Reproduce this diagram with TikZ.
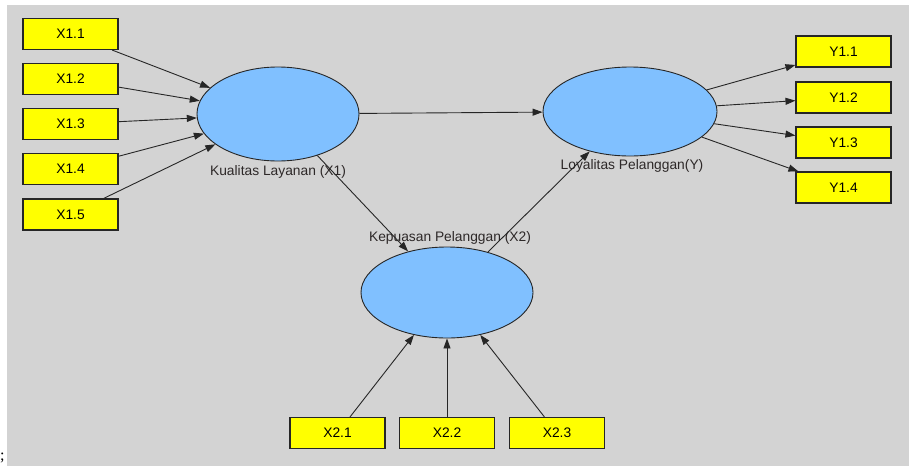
\documentclass[tikz,border=0pt]{standalone}
\usepackage{fontspec}
\setmainfont{Liberation Sans}
\newfontfamily\semifont{Liberation Serif}
\usetikzlibrary{arrows.meta,shapes.geometric}
\definecolor{canvas}{RGB}{211,211,211}
\definecolor{latent}{RGB}{128,192,255}
\definecolor{indicator}{RGB}{255,255,0}
\definecolor{labeltext}{RGB}{45,40,40}
\begin{document}
\begin{tikzpicture}[x=1pt,y=-1pt,
  mbox/.style={draw=black!85,line width=1.1pt,fill=indicator,minimum width=95pt,minimum height=31pt,inner sep=0pt,font=\fontsize{13.8}{15}\selectfont},
  lv/.style={ellipse,draw=black!85,line width=0.9pt,fill=latent,inner sep=0pt},
  lvlabel/.style={text=labeltext,font=\fontsize{13.8}{15}\selectfont,inner sep=0pt},
  path/.style={draw=black!85,line width=0.9pt,-{Triangle[length=10pt,width=7pt]}}]
\useasboundingbox (0,0) rectangle (909,466);
\fill[canvas] (7,5) rectangle (909,466);
\node[font=\semifont\fontsize{16}{18}\selectfont,anchor=west,inner sep=0pt] (semi) at (0,458) {;};

% latent variables
\node[lv,minimum width=162pt,minimum height=94pt] (kl) at (278,114) {};
\node[lv,minimum width=174pt,minimum height=89pt] (lp) at (630,111.5) {};
\node[lv,minimum width=172pt,minimum height=91pt] (kp) at (447,292.5) {};
\node[lvlabel] (kllab) at (278,172) {Kualitas Layanan (X1)};
\node[lvlabel] (lplab) at (632,166) {Loyalitas Pelanggan(Y)};
\node[lvlabel] (kplab) at (450,238) {Kepuasan Pelanggan (X2)};

% indicators of X1
\node[mbox] (x11) at (70.5,34) {X1.1};
\node[mbox] (x12) at (70.5,79) {X1.2};
\node[mbox] (x13) at (70.5,124) {X1.3};
\node[mbox] (x14) at (70.5,169) {X1.4};
\node[mbox] (x15) at (70.5,214.5) {X1.5};

% indicators of Y
\node[mbox] (y11) at (843.5,51.5) {Y1.1};
\node[mbox] (y12) at (843.5,97.5) {Y1.2};
\node[mbox] (y13) at (843.5,142.5) {Y1.3};
\node[mbox] (y14) at (843.5,187.5) {Y1.4};

% indicators of X2
\node[mbox] (x21) at (337.5,433) {X2.1};
\node[mbox] (x22) at (447,433) {X2.2};
\node[mbox] (x23) at (557,433) {X2.3};

% connectors
\foreach \i in {x11,x12,x13,x14,x15} \draw[path] (\i) -- (kl);
\foreach \i in {y11,y12,y13,y14} \draw[path] (lp) -- (\i);
\foreach \i in {x21,x22,x23} \draw[path] (\i) -- (kp);
\draw[path] (kl) -- (lp);
\draw[path] (kl) -- (kp);
\draw[path] (kp) -- (lp);
\end{tikzpicture}
\end{document}
